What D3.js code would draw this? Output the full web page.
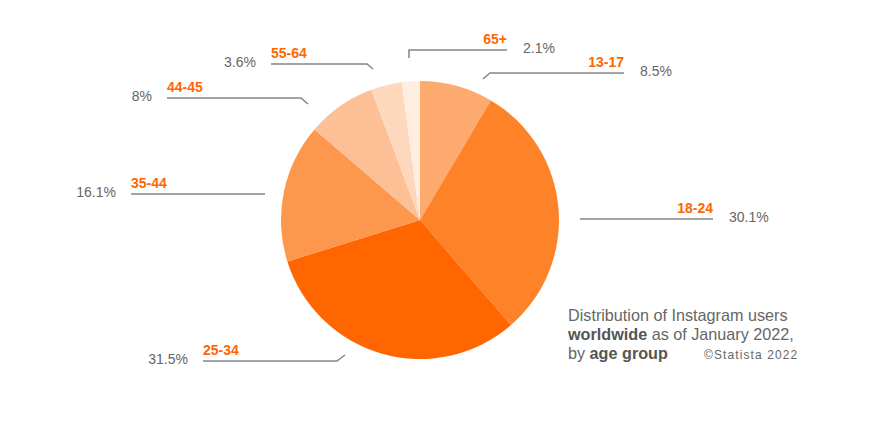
<!DOCTYPE html>
<html>
<head>
<meta charset="utf-8">
<script src="https://cdn.jsdelivr.net/npm/d3@7/dist/d3.min.js"></script>
<style>
  html, body { margin: 0; padding: 0; background: #fff; }
  svg { display: block; font-family: "Liberation Sans", Arial, Helvetica, sans-serif; }
</style>
</head>
<body>
<svg id="chart" width="870" height="426"></svg>
<script>
// ---- data ----
const categories = ["13-17", "18-24", "25-34", "35-44", "44-45", "55-64", "65+"];
const values = [8.5, 30.1, 31.5, 16.1, 8, 3.6, 2.1];
const valueLabels = ["8.5%", "30.1%", "31.5%", "16.1%", "8%", "3.6%", "2.1%"];
const colors = ["#FDAA6F", "#FD8228", "#FF6600", "#FD974D", "#FDBF96", "#FED8BD", "#FFEDE0"];

// ---- label layout (positions only) ----
const labelLayout = [
  { side: "r", y: 73,  x0: 490, x1: 624, ex: 483, ey: 79 },
  { side: "r", y: 219, x0: 580, x1: 713, ex: 580, ey: 219 },
  { side: "l", y: 361, x0: 337, x1: 203, ex: 345, ey: 355 },
  { side: "l", y: 194, x0: 265, x1: 131, ex: 265, ey: 194 },
  { side: "l", y: 98,  x0: 301, x1: 167, ex: 308, ey: 104 },
  { side: "l", y: 64,  x0: 367, x1: 271, ex: 373, ey: 69 },
  { side: "r", y: 50,  x0: 409, x1: 507, ex: 409, ey: 58 }
];

const svg = d3.select("#chart");
const cx = 420, cy = 220, R = 139;

const pie = d3.pie().value(d => d).sort(null);
const arc = d3.arc().innerRadius(0).outerRadius(R);
const color = d3.scaleOrdinal().domain(categories).range(colors);

const arcs = pie(values);
const g = svg.append("g").attr("transform", `translate(${cx},${cy})`);
g.selectAll("path")
  .data(arcs)
  .join("path")
  .attr("d", arc)
  .attr("fill", (d, i) => color(categories[i]));

// ---- labels ----
const lg = svg.append("g");
arcs.forEach((a, i) => {
  const L = labelLayout[i];
  const pts = [[L.ex, L.ey], [L.x0, L.y], [L.x1, L.y]];
  lg.append("path")
    .attr("d", d3.line()(pts))
    .attr("fill", "none")
    .attr("stroke", "#858585")
    .attr("stroke-width", 1.5);
  const right = L.side === "r";
  lg.append("text")
    .attr("x", L.x1)
    .attr("y", L.y - 6)
    .attr("text-anchor", right ? "end" : "start")
    .attr("font-size", 14)
    .attr("font-weight", "bold")
    .attr("fill", "#FF6600")
    .text(categories[i]);
  lg.append("text")
    .attr("x", right ? L.x1 + 16 : L.x1 - 15)
    .attr("y", L.y + 3)
    .attr("text-anchor", right ? "start" : "end")
    .attr("font-size", 14)
    .attr("fill", "#666")
    .text(valueLabels[i]);
});

// ---- caption ----
const cap = svg.append("g").attr("font-size", 16.2).attr("fill", "#666");
const t1 = cap.append("text").attr("x", 568).attr("y", 321);
t1.append("tspan").text("Distribution of Instagram users");
const t2 = cap.append("text").attr("x", 568).attr("y", 340);
t2.append("tspan").attr("font-weight", "bold").attr("fill", "#555").text("worldwide");
t2.append("tspan").text(" as of January 2022,");
const t3 = cap.append("text").attr("x", 568).attr("y", 359);
t3.append("tspan").text("by ");
t3.append("tspan").attr("font-weight", "bold").attr("fill", "#555").text("age group");
svg.append("text")
  .attr("x", 704).attr("y", 359)
  .attr("font-size", 12)
  .attr("letter-spacing", 1.1)
  .attr("fill", "#666")
  .text("©Statista 2022");
</script>
</body>
</html>
